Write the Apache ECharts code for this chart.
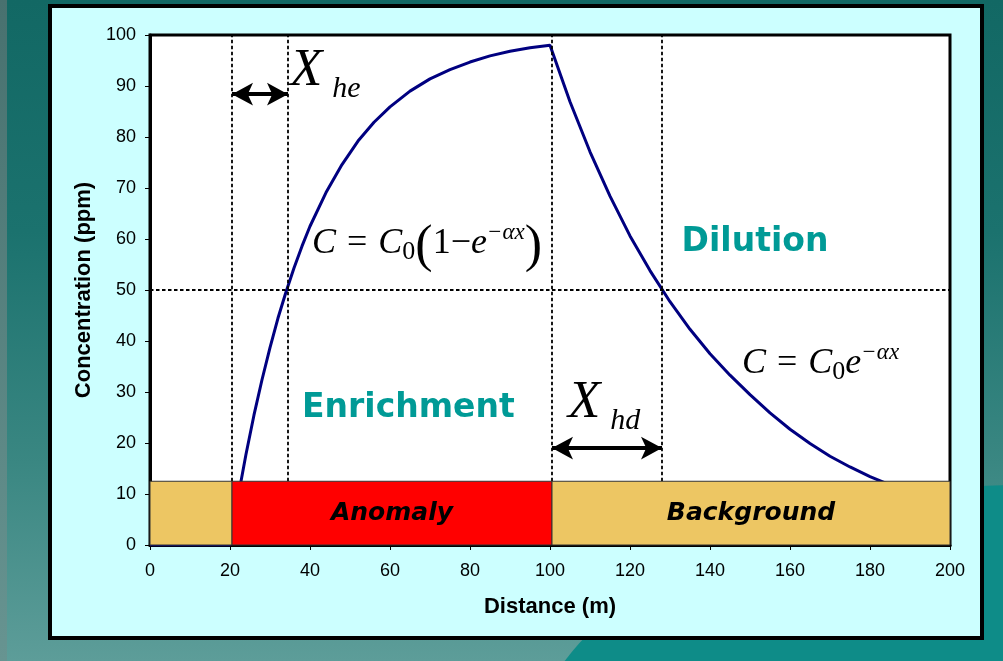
<!DOCTYPE html>
<html>
<head>
<meta charset="utf-8">
<script src="https://cdn.jsdelivr.net/npm/echarts/dist/echarts.min.js"></script>
<style>
  html, body { margin: 0; padding: 0; width: 1003px; height: 661px; overflow: hidden; }
  body { position: relative; background: linear-gradient(to bottom, #126864 0%, #1b726e 35%, #3a8782 70%, #5d9d99 100%); }
  #edge { position: absolute; left: 0; top: 0; width: 7px; height: 661px; background: linear-gradient(#48716f, #679491); }
  #wave { position: absolute; left: 520px; top: 485px; width: 1000px; height: 600px; border-radius: 50%; background: #0e8c88; }
  #panel { position: absolute; left: 48px; top: 4px; width: 936px; height: 636px; box-sizing: border-box; border: 4px solid #000; background: #ccffff; }
  #chart { position: absolute; left: 0; top: 0; width: 1003px; height: 661px; }
</style>
</head>
<body>
<div id="edge"></div>
<div id="wave"></div>
<div id="panel"></div>
<div id="chart"></div>
<script>
// Concentration profile along the traverse
const distance = [0, 20, 22, 24, 26, 28, 30, 32, 34, 36, 38, 40, 44, 48, 52, 56, 60, 65, 70, 75, 80, 85, 90, 95, 100,
                  105, 110, 115, 120, 125, 130, 135, 140, 145, 150, 155, 160, 165, 170, 175, 180, 185, 190, 195, 200];
const concentration = [0, 0, 9.3, 17.8, 25.5, 32.4, 38.7, 44.5, 49.6, 54.3, 58.6, 62.5, 69.1, 74.6, 79.2, 82.9, 85.9, 89.0, 91.4, 93.2, 94.7, 95.9, 96.8, 97.5, 98.0,
                       86.9, 77.1, 68.4, 60.6, 53.8, 47.7, 42.3, 37.5, 33.3, 29.5, 25.9, 22.7, 19.9, 17.4, 15.3, 13.4, 11.8, 10.3, 9.0, 7.9];

// Axis ranges and tick steps
const xRange = [0, 200];
const xStep = 20;
const yRange = [0, 100];
const yStep = 10;

// Zones along the bottom strip
const zoneFrom = [0, 20.5, 100.5];
const zoneTo = [20.5, 100.5, 200];
const zoneLabel = ['', 'Anomaly', 'Background'];
const zoneTop = 12.5;

// Half-distance markers
const halfLevel = 50;
const heBounds = [20.5, 34.5];
const hdBounds = [100.5, 128];

const zoneColor = ['#edc663', '#ff0000', '#edc663'];
const serif = '"Liberation Serif", "Times New Roman", serif';
const sans = '"Liberation Sans", Arial, sans-serif';
const verdana = '"DejaVu Sans", Verdana, sans-serif';

const chart = echarts.init(document.getElementById('chart'), null, { renderer: 'canvas' });

const dashStyle = { type: [3.5, 2.5], color: '#000', width: 1.8 };
const vline = (x) => [{ coord: [x, zoneTop] }, { coord: [x, yRange[1]] }];

const option = {
  animation: false,
  backgroundColor: 'transparent',
  grid: {
    left: 150, right: 53, top: 35, bottom: 116,
    show: true, backgroundColor: '#ffffff', borderColor: '#000', borderWidth: 3,
    outerBoundsMode: 'none'
  },
  xAxis: {
    type: 'value', min: xRange[0], max: xRange[1], interval: xStep,
    name: 'Distance (m)', nameLocation: 'middle', nameGap: 51,
    nameTextStyle: { fontFamily: sans, fontWeight: 'bold', fontSize: 22, color: '#000' },
    axisLine: { show: true, lineStyle: { color: '#000', width: 3 } },
    axisTick: { show: true, length: 5, lineStyle: { color: '#000', width: 1 } },
    axisLabel: { fontFamily: sans, fontSize: 18, color: '#000', margin: 17 },
    splitLine: { show: false }
  },
  yAxis: {
    type: 'value', min: yRange[0], max: yRange[1], interval: yStep,
    name: 'Concentration (ppm)', nameLocation: 'middle', nameGap: 55,
    nameTextStyle: { fontFamily: sans, fontWeight: 'bold', fontSize: 22, color: '#000' },
    axisLine: { show: true, lineStyle: { color: '#000', width: 3 } },
    axisTick: { show: true, length: 5, lineStyle: { color: '#000', width: 1 } },
    axisLabel: { fontFamily: sans, fontSize: 18, color: '#000', margin: 14 },
    splitLine: { show: false }
  },
  series: [
    {
      name: 'profile',
      type: 'line',
      z: 3,
      showSymbol: false,
      data: distance.map((d, i) => [d, concentration[i]]),
      lineStyle: { color: '#000080', width: 3 },
      itemStyle: { color: '#000080' }
    },
    {
      name: 'zones',
      type: 'custom',
      z: 5,
      encode: { x: [0, 1], y: 2 },
      data: zoneFrom.map((f, i) => [f, zoneTo[i], zoneTop]),
      renderItem: function (params, api) {
        const i = params.dataIndex;
        const p0 = api.coord([api.value(0), api.value(2)]);
        const p1 = api.coord([api.value(1), 0]);
        return {
          type: 'group',
          children: [
            {
              type: 'rect',
              shape: { x: p0[0], y: p0[1], width: p1[0] - p0[0], height: p1[1] - p0[1] },
              style: { fill: zoneColor[i], stroke: '#333', lineWidth: 1 }
            },
            {
              type: 'text',
              x: (p0[0] + p1[0]) / 2, y: (p0[1] + p1[1]) / 2,
              style: {
                text: zoneLabel[i], font: 'italic bold 25px ' + verdana, fill: '#000',
                align: 'center', verticalAlign: 'middle'
              }
            }
          ]
        };
      }
    },
    {
      name: 'guides',
      type: 'line',
      z: 6,
      data: [],
      markLine: {
        silent: true, symbol: 'none', label: { show: false }, lineStyle: dashStyle,
        data: [
          vline(heBounds[0]), vline(heBounds[1]), vline(hdBounds[0]), vline(hdBounds[1]),
          [{ coord: [xRange[0], halfLevel] }, { coord: [xRange[1], halfLevel] }]
        ]
      }
    },
    {
      name: 'spans',
      type: 'line',
      z: 6,
      data: [],
      markLine: {
        silent: true, symbol: ['arrow', 'arrow'], symbolSize: [17, 21], label: { show: false },
        lineStyle: { type: 'solid', color: '#000', width: 4 },
        itemStyle: { color: '#000' },
        data: [
          [{ coord: [heBounds[0], 88.4] }, { coord: [heBounds[1], 88.4] }],
          [{ coord: [hdBounds[0], 19] }, { coord: [hdBounds[1], 19] }]
        ]
      }
    },
    {
      name: 'notes',
      type: 'scatter',
      z: 7,
      symbolSize: 0.1,
      itemStyle: { color: 'transparent', opacity: 1 },
      silent: true,
      label: {
        show: true, position: 'inside', verticalAlign: 'middle', color: '#000', opacity: 1, textBorderWidth: 0,
        rich: {
          X: { fontFamily: serif, fontStyle: 'italic', fontSize: 53, lineHeight: 66, color: '#000' },
          s: { fontFamily: serif, fontStyle: 'italic', fontSize: 30, lineHeight: 8, verticalAlign: 'bottom', padding: [0, 0, 0, 10], color: '#000' },
          v: { fontFamily: serif, fontStyle: 'italic', fontSize: 36, lineHeight: 44, color: '#000' },
          n: { fontFamily: serif, fontSize: 36, lineHeight: 44, color: '#000' },
          op: { fontFamily: serif, fontSize: 36, lineHeight: 44, color: '#000', padding: [0, 2] },
          m: { fontFamily: serif, fontSize: 36, lineHeight: 44, color: '#000' },
          sub: { fontFamily: serif, fontSize: 26, lineHeight: 16, verticalAlign: 'bottom', color: '#000' },
          sup: { fontFamily: serif, fontStyle: 'italic', fontSize: 23, lineHeight: 23, verticalAlign: 'top', color: '#000' },
          par: { fontFamily: serif, fontSize: 52, lineHeight: 30, verticalAlign: 'top', color: '#000' },
          t: { fontFamily: verdana, fontWeight: 'bold', fontSize: 33, color: '#009a96' }
        }
      },
      data: [
        { value: [35, 93.0], label: { align: 'left', formatter: '{X|X}{s|he}' } },
        { value: [104.5, 27.9], label: { align: 'left', formatter: '{X|X}{s|hd}' } },
        { value: [40.5, 59.2], label: { align: 'left', formatter: '{v|C}{op| = }{v|C}{sub|0}{par|(}{n|1}{m|\u2212}{v|e}{sup|\u2212\u03b1x}{par|)}' } },
        { value: [148, 35.6], label: { align: 'left', formatter: '{v|C}{op| = }{v|C}{sub|0}{v|e}{sup|\u2212\u03b1x}' } },
        { value: [64.6, 26.8], label: { align: 'center', formatter: '{t|Enrichment}' } },
        { value: [151.25, 59.3], label: { align: 'center', formatter: '{t|Dilution}' } }
      ]
    }
  ]
};

chart.setOption(option);
</script>
</body>
</html>
